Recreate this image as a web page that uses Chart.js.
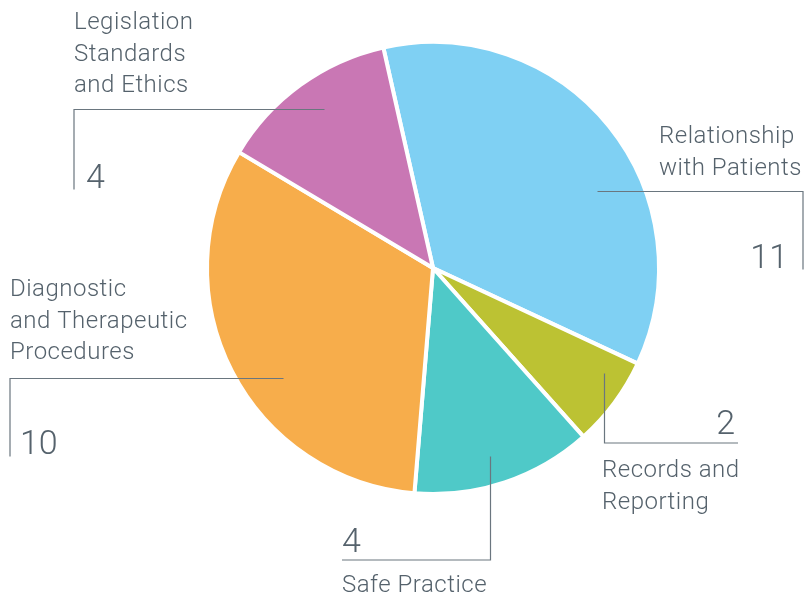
<!DOCTYPE html>
<html>
<head>
<meta charset="utf-8">
<script src="https://cdn.jsdelivr.net/npm/chart.js@4/dist/chart.umd.min.js"></script>
<style>
  html, body { margin: 0; padding: 0; background: #fff; }
  #wrap { width: 805px; height: 596px; }
</style>
</head>
<body>
<div id="wrap"><canvas id="myChart" width="805" height="596"></canvas></div>
<script>
var categories = [
    ['Relationship', 'with Patients'],
    ['Records and', 'Reporting'],
    ['Safe Practice'],
    ['Diagnostic', 'and Therapeutic', 'Procedures'],
    ['Legislation', 'Standards', 'and Ethics']
];
var counts = [11, 2, 4, 10, 4];
var sliceColors = ['#7fd0f3', '#bcc233', '#4fc9c8', '#f7ad4b', '#c977b4'];

// callout layout: anchor inside slice (fraction of slice angle / radius),
// then an elbow line and where the texts go
var callouts = [
    { af: 0.608, rf: 0.80, dir: 'h', toX: 803, len: 78, textX: 659, textY: 143, numX: 788, numY: 268, numAlign: 'right' },
    { af: 0.28, rf: 0.886, dir: 'v', toY: 443, endX: 738, textX: 602, textY: 477, numX: 735, numY: 434, numAlign: 'right' },
    { af: 0.537, rf: 0.867, dir: 'v', toY: 560, endX: 342, textX: 342, textY: 592, numX: 342, numY: 552, numAlign: 'left' },
    { af: 0.423, rf: 0.824, dir: 'h', toX: 10, len: 78, textX: 10, textY: 296, numX: 20, numY: 454, numAlign: 'left' },
    { af: 0.532, rf: 0.854, dir: 'h', toX: 74, len: 80, textX: 74, textY: 29, numX: 86, numY: 188, numAlign: 'left' }
];

var calloutPlugin = {
    id: 'callouts',
    afterDraw: function(chart) {
        var ctx = chart.ctx;
        var arcs = chart.getDatasetMeta(0).data;
        ctx.save();
        arcs.forEach(function(arc, i) {
            var c = callouts[i];
            var p = arc.getProps(['x', 'y', 'startAngle', 'endAngle', 'outerRadius'], true);
            var a = p.startAngle + (p.endAngle - p.startAngle) * c.af;
            var r = p.outerRadius * c.rf;
            var ax = Math.round(p.x + Math.cos(a) * r) + 0.5;
            var ay = Math.round(p.y + Math.sin(a) * r) + 0.5;

            ctx.strokeStyle = '#6a767f';
            ctx.lineWidth = 1.2;
            ctx.beginPath();
            ctx.moveTo(ax, ay);
            if (c.dir === 'h') {
                ctx.lineTo(c.toX, ay);
                ctx.lineTo(c.toX, ay + c.len);
            } else {
                ctx.lineTo(ax, c.toY);
                ctx.lineTo(c.endX, c.toY);
            }
            ctx.stroke();

            ctx.fillStyle = '#55626c';
            ctx.textBaseline = 'alphabetic';
            ctx.letterSpacing = '0px';
            ctx.font = '300 34px Roboto';
            ctx.textAlign = c.numAlign;
            ctx.fillText(String(counts[i]), c.numX, c.numY);

            ctx.font = '300 24px Roboto';
            ctx.letterSpacing = '0.5px';
            ctx.textAlign = 'left';
            categories[i].forEach(function(line, k) {
                ctx.fillText(line, c.textX, c.textY + k * 31.5);
            });
        });
        ctx.restore();
    }
};

var ctx = document.getElementById('myChart').getContext('2d');
var myChart = new Chart(ctx, {
    type: 'pie',
    data: {
        labels: categories.map(function(l) { return l.join(' '); }),
        datasets: [{
            data: counts,
            backgroundColor: sliceColors,
            borderColor: '#ffffff',
            borderWidth: 4
        }]
    },
    options: {
        responsive: false,
        animation: false,
        rotation: -12.7,
        layout: { padding: { left: 205, right: 144, top: 40, bottom: 100 } },
        plugins: {
            legend: { display: false },
            tooltip: { enabled: false }
        }
    },
    plugins: [calloutPlugin]
});
</script>
</body>
</html>
